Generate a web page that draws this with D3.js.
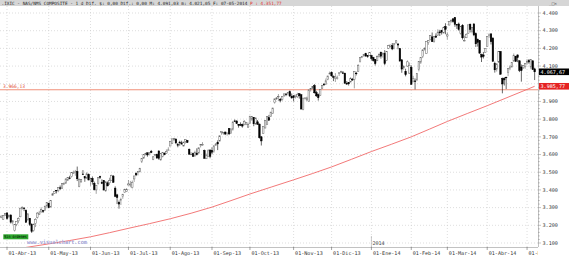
<!DOCTYPE html>
<html>
<head>
<meta charset="utf-8">
<script src="https://cdn.jsdelivr.net/npm/d3@7"></script>
<style>
  body { margin: 0; background: #fff; }
  svg { display: block; }
  text { font-family: "DejaVu Sans Mono", monospace; }
</style>
</head>
<body>
<div id="chart"></div>
<script>
// daily bars: date, open, high, low, close
const bars = [
  ["2013-03-26",3245,3256,3240,3252],["2013-03-27",3233,3258,3230,3256],["2013-03-28",3258,3270,3252,3268],
  ["2013-04-01",3270,3272,3232,3239],["2013-04-02",3248,3262,3240,3255],["2013-04-03",3258,3262,3210,3218],
  ["2013-04-04",3218,3230,3205,3225],["2013-04-05",3170,3205,3165,3204],["2013-04-08",3205,3222,3195,3222],
  ["2013-04-09",3225,3245,3212,3238],["2013-04-10",3248,3299,3246,3297],["2013-04-11",3296,3308,3288,3300],
  ["2013-04-12",3298,3299,3280,3294],["2013-04-15",3285,3290,3215,3217],["2013-04-16",3230,3267,3228,3265],
  ["2013-04-17",3240,3241,3196,3205],["2013-04-18",3206,3212,3157,3166],["2013-04-19",3170,3210,3164,3206],
  ["2013-04-22",3210,3240,3190,3234],["2013-04-23",3245,3275,3238,3269],["2013-04-24",3262,3282,3258,3269],
  ["2013-04-25",3275,3302,3273,3290],["2013-04-26",3283,3285,3270,3279],["2013-04-29",3285,3312,3283,3307],
  ["2013-04-30",3310,3329,3296,3329],
  ["2013-05-01",3325,3327,3296,3300],["2013-05-02",3303,3341,3302,3340],["2013-05-03",3368,3383,3366,3378],
  ["2013-05-06",3380,3394,3377,3392],["2013-05-07",3398,3399,3380,3396],["2013-05-08",3395,3414,3387,3413],
  ["2013-05-09",3412,3425,3400,3409],["2013-05-10",3410,3437,3405,3436],["2013-05-13",3430,3442,3427,3438],
  ["2013-05-14",3438,3465,3435,3462],["2013-05-15",3455,3472,3450,3471],["2013-05-16",3468,3480,3460,3465],
  ["2013-05-17",3475,3499,3470,3498],["2013-05-20",3495,3509,3490,3496],["2013-05-21",3498,3513,3480,3502],
  ["2013-05-22",3505,3532,3450,3463],["2013-05-23",3420,3465,3415,3459],["2013-05-24",3445,3461,3442,3459],
  ["2013-05-28",3490,3512,3484,3488],["2013-05-29",3475,3476,3446,3467],["2013-05-30",3466,3500,3465,3491],
  ["2013-05-31",3487,3493,3455,3456],
  ["2013-06-03",3458,3467,3423,3465],["2013-06-04",3465,3476,3430,3446],["2013-06-05",3438,3447,3397,3401],
  ["2013-06-06",3400,3425,3378,3424],["2013-06-07",3437,3470,3430,3469],["2013-06-10",3475,3480,3462,3473],
  ["2013-06-11",3442,3460,3433,3437],["2013-06-12",3452,3456,3396,3400],["2013-06-13",3395,3450,3389,3445],
  ["2013-06-14",3440,3448,3420,3423],["2013-06-17",3440,3469,3428,3452],["2013-06-18",3455,3486,3452,3482],
  ["2013-06-19",3478,3484,3441,3443],["2013-06-20",3410,3420,3359,3364],["2013-06-21",3372,3378,3320,3357],
  ["2013-06-24",3330,3340,3294,3320],["2013-06-25",3340,3356,3315,3347],["2013-06-26",3362,3377,3350,3376],
  ["2013-06-27",3385,3407,3384,3401],["2013-06-28",3390,3410,3388,3403],
  ["2013-07-01",3428,3456,3425,3434],["2013-07-02",3428,3451,3415,3433],["2013-07-03",3413,3453,3408,3443],
  ["2013-07-05",3462,3479,3445,3479],["2013-07-08",3493,3499,3478,3485],["2013-07-09",3500,3506,3482,3504],
  ["2013-07-10",3502,3525,3500,3520],["2013-07-11",3562,3579,3552,3579],["2013-07-12",3580,3600,3576,3600],
  ["2013-07-15",3601,3610,3595,3607],["2013-07-16",3610,3611,3588,3598],["2013-07-17",3605,3614,3595,3610],
  ["2013-07-18",3618,3626,3608,3611],["2013-07-19",3573,3592,3568,3587],["2013-07-22",3594,3603,3590,3600],
  ["2013-07-23",3601,3605,3578,3580],["2013-07-24",3620,3624,3570,3579],["2013-07-25",3570,3606,3565,3605],
  ["2013-07-26",3590,3614,3584,3613],["2013-07-29",3607,3612,3596,3599],["2013-07-30",3608,3629,3604,3617],
  ["2013-07-31",3625,3641,3625,3626],
  ["2013-08-01",3648,3677,3648,3675],["2013-08-02",3664,3689,3660,3689],["2013-08-05",3683,3694,3678,3692],
  ["2013-08-06",3688,3689,3659,3666],["2013-08-07",3656,3665,3641,3654],["2013-08-08",3670,3678,3650,3669],
  ["2013-08-09",3666,3678,3655,3660],["2013-08-12",3648,3673,3646,3670],["2013-08-13",3675,3686,3662,3684],
  ["2013-08-14",3680,3682,3665,3669],["2013-08-15",3630,3634,3600,3602],["2013-08-16",3602,3614,3597,3602],
  ["2013-08-19",3605,3611,3589,3589],["2013-08-20",3591,3622,3590,3613],["2013-08-21",3608,3635,3595,3599],
  ["2013-08-22",3608,3640,3606,3638],["2013-08-23",3650,3658,3640,3658],["2013-08-26",3655,3670,3650,3657],
  ["2013-08-27",3623,3628,3577,3579],["2013-08-28",3576,3605,3575,3593],["2013-08-29",3590,3630,3590,3621],
  ["2013-08-30",3626,3626,3579,3590],
  ["2013-09-03",3624,3640,3601,3613],["2013-09-04",3617,3652,3610,3649],["2013-09-05",3652,3665,3650,3659],
  ["2013-09-06",3668,3680,3625,3660],["2013-09-09",3676,3708,3675,3706],["2013-09-10",3727,3730,3712,3729],
  ["2013-09-11",3725,3727,3712,3725],["2013-09-12",3727,3730,3710,3716],["2013-09-13",3722,3723,3707,3722],
  ["2013-09-16",3747,3748,3710,3717],["2013-09-17",3718,3747,3718,3745],["2013-09-18",3743,3790,3735,3783],
  ["2013-09-19",3790,3798,3785,3789],["2013-09-20",3790,3792,3774,3775],["2013-09-23",3770,3772,3752,3765],
  ["2013-09-24",3769,3782,3762,3768],["2013-09-25",3770,3775,3752,3761],["2013-09-26",3768,3795,3766,3787],
  ["2013-09-27",3772,3782,3766,3781],["2013-09-30",3755,3780,3750,3771],
  ["2013-10-01",3775,3818,3774,3817],["2013-10-02",3800,3818,3790,3815],["2013-10-03",3810,3812,3760,3774],
  ["2013-10-04",3772,3808,3770,3807],["2013-10-07",3785,3795,3770,3770],["2013-10-08",3772,3775,3690,3695],
  ["2013-10-09",3700,3705,3651,3677],["2013-10-10",3720,3760,3718,3760],["2013-10-11",3750,3794,3748,3792],
  ["2013-10-14",3770,3816,3768,3815],["2013-10-15",3808,3824,3792,3794],["2013-10-16",3815,3840,3812,3840],
  ["2013-10-17",3833,3864,3830,3863],["2013-10-18",3894,3915,3888,3915],["2013-10-21",3915,3925,3909,3920],
  ["2013-10-22",3928,3942,3902,3929],["2013-10-23",3912,3920,3895,3907],["2013-10-24",3912,3930,3904,3929],
  ["2013-10-25",3935,3944,3925,3943],["2013-10-28",3942,3947,3930,3940],["2013-10-29",3945,3953,3935,3952],
  ["2013-10-30",3955,3962,3925,3931],["2013-10-31",3928,3945,3916,3920],
  ["2013-11-01",3932,3935,3900,3922],["2013-11-04",3930,3937,3917,3936],["2013-11-05",3926,3949,3920,3940],
  ["2013-11-06",3944,3945,3916,3932],["2013-11-07",3938,3938,3857,3857],["2013-11-08",3856,3920,3850,3919],
  ["2013-11-11",3918,3925,3912,3919],["2013-11-12",3908,3927,3905,3920],["2013-11-13",3900,3966,3898,3966],
  ["2013-11-14",3970,3975,3956,3972],["2013-11-15",3975,3986,3970,3985],["2013-11-18",3990,3998,3945,3949],
  ["2013-11-19",3950,3960,3925,3932],["2013-11-20",3938,3945,3905,3921],["2013-11-21",3935,3970,3932,3969],
  ["2013-11-22",3975,3992,3970,3991],["2013-11-25",3998,4004,3988,3994],["2013-11-26",3997,4030,3995,4017],
  ["2013-11-27",4025,4045,4020,4044],["2013-11-29",4055,4069,4054,4060],
  ["2013-12-02",4064,4070,4040,4045],["2013-12-03",4040,4047,4015,4037],["2013-12-04",4030,4060,4010,4038],
  ["2013-12-05",4030,4046,4024,4033],["2013-12-06",4060,4064,4044,4062],["2013-12-09",4067,4074,4060,4068],
  ["2013-12-10",4062,4072,4055,4060],["2013-12-11",4060,4062,4001,4003],["2013-12-12",4003,4015,3995,3998],
  ["2013-12-13",4008,4010,3990,4000],["2013-12-16",4010,4037,4008,4029],["2013-12-17",4025,4033,4016,4023],
  ["2013-12-18",4025,4071,3974,4070],["2013-12-19",4060,4068,4047,4059],["2013-12-20",4070,4111,4068,4104],
  ["2013-12-23",4125,4148,4120,4148],["2013-12-24",4150,4155,4145,4155],["2013-12-26",4157,4168,4155,4167],
  ["2013-12-27",4170,4175,4152,4157],["2013-12-30",4159,4160,4147,4154],["2013-12-31",4161,4177,4157,4177],
  ["2014-01-02",4160,4161,4132,4143],["2014-01-03",4148,4152,4125,4131],["2014-01-06",4138,4139,4103,4114],
  ["2014-01-07",4130,4160,4128,4153],["2014-01-08",4154,4172,4148,4165],["2014-01-09",4179,4180,4142,4156],
  ["2014-01-10",4167,4175,4148,4174],["2014-01-13",4172,4190,4105,4114],["2014-01-14",4132,4185,4128,4183],
  ["2014-01-15",4200,4220,4196,4215],["2014-01-16",4212,4220,4205,4219],["2014-01-17",4215,4230,4190,4197],
  ["2014-01-21",4225,4230,4195,4226],["2014-01-22",4232,4247,4225,4243],["2014-01-23",4225,4228,4195,4219],
  ["2014-01-24",4199,4200,4128,4128],["2014-01-27",4135,4140,4062,4083],["2014-01-28",4090,4105,4079,4097],
  ["2014-01-29",4070,4085,4042,4051],["2014-01-30",4100,4132,4095,4124],["2014-01-31",4060,4120,4056,4104],
  ["2014-02-03",4093,4104,3995,3997],["2014-02-04",4015,4045,4008,4031],["2014-02-05",4016,4030,3968,4012],
  ["2014-02-06",4022,4057,4015,4057],["2014-02-07",4082,4126,4070,4126],["2014-02-10",4122,4148,4112,4148],
  ["2014-02-11",4153,4195,4145,4191],["2014-02-12",4195,4206,4188,4201],["2014-02-13",4170,4240,4168,4240],
  ["2014-02-14",4232,4246,4220,4244],["2014-02-18",4250,4275,4245,4273],["2014-02-19",4265,4290,4236,4238],
  ["2014-02-20",4240,4270,4232,4268],["2014-02-21",4270,4285,4260,4263],["2014-02-24",4274,4308,4272,4292],
  ["2014-02-25",4293,4305,4270,4288],["2014-02-26",4300,4305,4278,4292],["2014-02-27",4287,4323,4285,4318],
  ["2014-02-28",4324,4342,4280,4308],
  ["2014-03-03",4270,4291,4250,4277],["2014-03-04",4332,4355,4330,4352],["2014-03-05",4354,4365,4345,4358],
  ["2014-03-06",4367,4371,4345,4352],["2014-03-07",4375,4375,4322,4336],["2014-03-10",4335,4337,4310,4334],
  ["2014-03-11",4338,4346,4300,4307],["2014-03-12",4285,4324,4278,4323],["2014-03-13",4330,4337,4250,4260],
  ["2014-03-14",4245,4272,4240,4245],["2014-03-17",4260,4285,4258,4280],["2014-03-18",4285,4334,4283,4333],
  ["2014-03-19",4336,4341,4290,4307],["2014-03-20",4295,4321,4285,4319],["2014-03-21",4338,4342,4269,4276],
  ["2014-03-24",4283,4290,4208,4226],["2014-03-25",4250,4256,4210,4234],["2014-03-26",4244,4244,4171,4173],
  ["2014-03-27",4165,4170,4123,4151],["2014-03-28",4163,4180,4143,4155],["2014-03-31",4177,4200,4176,4199],
  ["2014-04-01",4210,4268,4208,4268],["2014-04-02",4272,4285,4260,4276],["2014-04-03",4282,4284,4222,4238],
  ["2014-04-04",4258,4263,4125,4127],["2014-04-07",4115,4125,4063,4079],["2014-04-08",4083,4114,4069,4113],
  ["2014-04-09",4123,4183,4118,4183],["2014-04-10",4182,4185,4052,4054],["2014-04-11",4030,4035,3946,3999],
  ["2014-04-14",4030,4038,3990,4022],["2014-04-15",4037,4040,3970,4034],["2014-04-16",4064,4087,4043,4087],
  ["2014-04-17",4086,4105,4077,4095],["2014-04-21",4096,4121,4090,4121],["2014-04-22",4128,4171,4126,4161],
  ["2014-04-23",4155,4158,4124,4126],["2014-04-24",4163,4165,4122,4148],["2014-04-25",4130,4132,4066,4076],
  ["2014-04-28",4095,4109,4012,4074],["2014-04-29",4090,4105,4084,4103],["2014-04-30",4097,4115,4085,4115],
  ["2014-05-01",4120,4139,4108,4127],["2014-05-02",4131,4140,4113,4123],["2014-05-05",4095,4139,4082,4138],
  ["2014-05-06",4130,4131,4080,4080],["2014-05-07",4084,4091.03,4021.05,4067.67]
];

// red moving average, read at a few dates
const maPoints = [
  ["2013-04-15",3075],["2013-05-01",3095],["2013-06-03",3135],["2013-07-01",3183],
  ["2013-08-01",3237],["2013-09-03",3303],["2013-10-01",3377],["2013-11-01",3457],
  ["2013-12-02",3530],["2014-01-02",3617],["2014-02-03",3700],["2014-03-03",3787],
  ["2014-04-01",3876],["2014-05-01",3968],["2014-05-07",3985.77]
];

const levelValue = 3966.13;
const yTicks = [3100,3200,3300,3400,3500,3600,3700,3800,3900,4000,4100,4200,4300,4400];
const monthTicks = [
  ["2013-04-01","01-Abr-13"],["2013-05-01","01-May-13"],["2013-06-03","01-Jun-13"],
  ["2013-07-01","01-Jul-13"],["2013-08-01","01-Ago-13"],["2013-09-03","01-Sep-13"],
  ["2013-10-01","01-Oct-13"],["2013-11-01","01-Nov-13"],["2013-12-02","01-Dic-13"],
  ["2014-01-02","01-Ene-14"],["2014-02-03","01-Feb-14"],["2014-03-03","01-Mar-14"],
  ["2014-04-01","01-Abr-14"],["2014-05-01","01-May-14"]
];

const W = 569, H = 257;
const plotRight = 538, plotTop = 6, plotBottom = 247;

const loc = d3.formatLocale({decimal: ",", thousands: ".", grouping: [3], currency: ["", ""]});
const fmt0 = loc.format(",.0f"), fmt2 = loc.format(",.2f");

const data = bars.map(b => ({date: b[0], open: b[1], high: b[2], low: b[3], close: b[4]}));
const last = data[data.length - 1];
const maLast = maPoints[maPoints.length - 1][1];

const x = d3.scaleBand().domain(data.map(d => d.date)).range([0.36, 535.6]);
const xc = d => x(d) + x.bandwidth() / 2;
const y = d3.scaleLinear().domain([3100, 4400]).range([243, 13]);

const svg = d3.select("#chart").append("svg").attr("width", W).attr("height", H);
svg.append("rect").attr("width", W).attr("height", H).attr("fill", "#fff");

svg.append("clipPath").attr("id", "plotClip")
  .append("rect").attr("x", 0).attr("y", plotTop).attr("width", plotRight).attr("height", plotBottom - plotTop);

// grid
const grid = svg.append("g").attr("stroke", "#c8c8c8").attr("stroke-width", 0.6).attr("stroke-dasharray", "1,2");
grid.selectAll("line.h").data(yTicks).join("line")
  .attr("x1", 0).attr("x2", plotRight).attr("y1", d => y(d)).attr("y2", d => y(d));
grid.selectAll("line.v").data(monthTicks).join("line")
  .attr("x1", d => xc(d[0])).attr("x2", d => xc(d[0])).attr("y1", plotTop).attr("y2", plotBottom);

const plot = svg.append("g").attr("clip-path", "url(#plotClip)");

// horizontal level
plot.append("line")
  .attr("x1", 0).attr("x2", plotRight).attr("y1", y(levelValue)).attr("y2", y(levelValue))
  .attr("stroke", "#f0907a").attr("stroke-width", 1);

// moving average
plot.append("path")
  .datum(maPoints)
  .attr("fill", "none").attr("stroke", "#f06a6a").attr("stroke-width", 0.9)
  .attr("d", d3.line().x(d => xc(d[0])).y(d => y(d[1])).curve(d3.curveMonotoneX));

// candles
const bw = x.bandwidth() * 0.8;
plot.selectAll("line.wick").data(data).join("line")
  .attr("x1", d => xc(d.date)).attr("x2", d => xc(d.date))
  .attr("y1", d => y(d.high)).attr("y2", d => y(d.low))
  .attr("stroke", d => d.close >= d.open ? "#666" : "#000").attr("stroke-width", 0.6);
plot.selectAll("rect.body").data(data).join("rect")
  .attr("x", d => xc(d.date) - bw / 2).attr("width", bw)
  .attr("y", d => y(Math.max(d.open, d.close)))
  .attr("height", d => Math.max(0.6, Math.abs(y(d.open) - y(d.close))))
  .attr("fill", d => d.close >= d.open ? "#fff" : "#000")
  .attr("stroke", d => d.close >= d.open ? "#666" : "#000").attr("stroke-width", 0.5);

// level label on the left
svg.append("text").attr("x", 3).attr("y", y(levelValue) - 1.5)
  .attr("font-size", 4.6).attr("fill", "#e04a30").text(fmt2(levelValue));

// year marker
svg.append("line").attr("x1", xc("2014-01-02")).attr("x2", xc("2014-01-02"))
  .attr("y1", 236).attr("y2", plotBottom).attr("stroke", "#aaa").attr("stroke-width", 0.6);
svg.append("text").attr("x", xc("2014-01-02") + 1).attr("y", 245)
  .attr("font-size", 5).attr("fill", "#444").text("2014");

// bottom axis
svg.append("line").attr("x1", 0).attr("x2", W).attr("y1", plotBottom + 0.5).attr("y2", plotBottom + 0.5)
  .attr("stroke", "#999").attr("stroke-width", 0.6);
const bottom = svg.append("g");
bottom.selectAll("line").data(monthTicks).join("line")
  .attr("x1", d => xc(d[0])).attr("x2", d => xc(d[0])).attr("y1", plotBottom).attr("y2", plotBottom + 3)
  .attr("stroke", "#666").attr("stroke-width", 0.6);
bottom.selectAll("text").data(monthTicks).join("text")
  .attr("x", d => xc(d[0]) + 1.5).attr("y", 254.5)
  .attr("font-size", 5.1).attr("fill", "#333").text(d => d[1]);

// watermark and order tag
svg.append("text").attr("x", 27).attr("y", 244.3).attr("font-family", "DejaVu Sans")
  .attr("font-size", 5.6).attr("font-weight", "bold").attr("fill", "#a3a3d6")
  .attr("textLength", 60).attr("lengthAdjust", "spacingAndGlyphs").text("www.visualchart.com");
svg.append("rect").attr("x", 3.3).attr("y", 234.3).attr("width", 25).attr("height", 5).attr("fill", "#2fa82f");
svg.append("text").attr("x", 4.3).attr("y", 238.4).attr("font-family", "DejaVu Sans")
  .attr("font-size", 4).attr("fill", "#000")
  .attr("textLength", 22.5).attr("lengthAdjust", "spacingAndGlyphs").text("Sin órdenes");

// right axis panel
svg.append("rect").attr("x", plotRight).attr("y", plotTop).attr("width", W - plotRight).attr("height", H - plotTop)
  .attr("fill", "#fff");
svg.append("line").attr("x1", plotRight + 0.5).attr("x2", plotRight + 0.5).attr("y1", plotTop).attr("y2", plotBottom)
  .attr("stroke", "#999").attr("stroke-width", 0.6);
const minor = d3.range(3100, 4401, 20);
svg.append("g").selectAll("line").data(minor).join("line")
  .attr("x1", plotRight).attr("x2", d => plotRight + (d % 100 === 0 ? 3 : 1.8))
  .attr("y1", d => y(d)).attr("y2", d => y(d))
  .attr("stroke", "#888").attr("stroke-width", 0.5);
// labels hidden behind the value boxes are left out
const boxValues = [last.close, maLast];
const shownTicks = yTicks.filter(t => boxValues.every(v => Math.abs(y(t) - y(v)) > 5));
svg.append("g").selectAll("text").data(shownTicks).join("text")
  .attr("x", 542.5).attr("y", d => y(d) + 1.8)
  .attr("font-size", 5.1).attr("fill", "#333").text(d => fmt0(d));

// last price and average value boxes
function valueBox(v, bg) {
  svg.append("rect").attr("x", plotRight + 1).attr("y", y(v) - 3.3).attr("width", W - plotRight - 1).attr("height", 6.6)
    .attr("fill", bg);
  svg.append("text").attr("x", 540.5).attr("y", y(v) + 1.8)
    .attr("font-size", 5.1).attr("fill", "#fff").text(fmt2(v));
}
valueBox(last.close, "#000");
valueBox(maLast, "#e52222");

// header bar
svg.append("rect").attr("width", W).attr("height", plotTop).attr("fill", "#d6d6d6");
const head = svg.append("text").attr("x", 1.5).attr("y", 4.8).attr("font-size", 4.4).attr("fill", "#222");
head.append("tspan").text(".IXIC - NAS/NMS COMPOSITE - 1 d Dif. $: 0,00 Dif.: 0,00 M: " +
  fmt2(last.high) + " m: " + fmt2(last.low) + " F: 07-05-2014 ");
head.append("tspan").attr("fill", "#e03030").text("P : 4.351,77");
svg.append("text").attr("x", 549).attr("y", 4.8).attr("font-size", 4.4).attr("fill", "#555").text("_□×");
</script>
</body>
</html>
